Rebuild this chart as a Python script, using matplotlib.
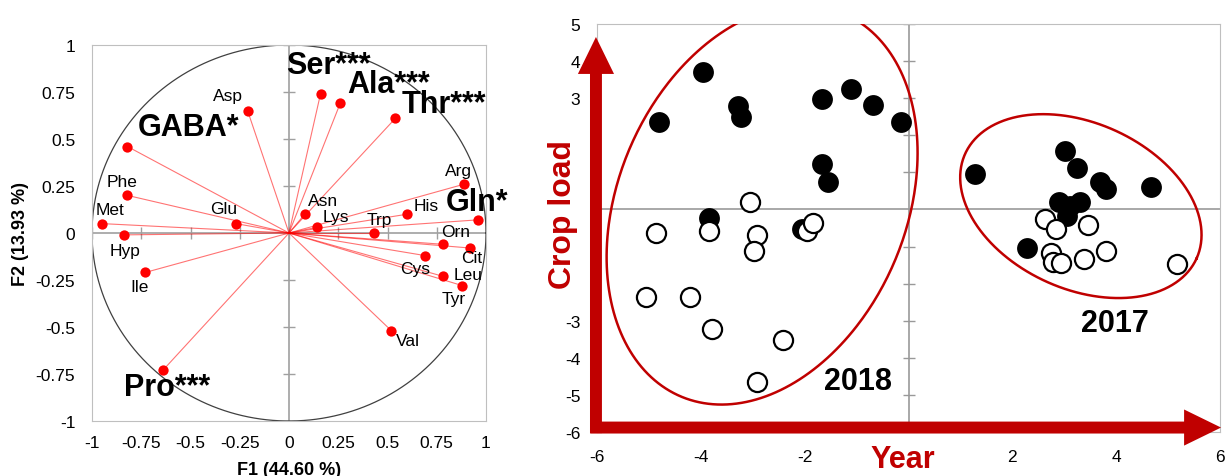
import numpy as np
import matplotlib.pyplot as plt
from matplotlib.patches import FancyArrowPatch

plt.rcParams['font.family'] = ['Liberation Sans', 'DejaVu Sans']
plt.rcParams['axes.unicode_minus'] = False

# --- left panel: PCA correlation circle (F1 x F2) ---
amino = ['Asp', 'GABA*', 'Phe', 'Met', 'Glu', 'Hyp', 'Ile', 'Pro***',
         'Ser***', 'Ala***', 'Thr***', 'Arg', 'Gln*', 'Asn', 'Lys', 'Trp',
         'His', 'Orn', 'Cit', 'Cys', 'Leu', 'Tyr', 'Val']
f1 = [-0.21, -0.82, -0.82, -0.95, -0.27, -0.84, -0.73, -0.64,
      0.16, 0.26, 0.54, 0.89, 0.96, 0.08, 0.14, 0.43,
      0.60, 0.78, 0.92, 0.69, 0.78, 0.88, 0.52]
f2 = [0.65, 0.46, 0.20, 0.05, 0.05, -0.01, -0.21, -0.73,
      0.74, 0.69, 0.61, 0.26, 0.07, 0.10, 0.03, 0.0,
      0.10, -0.06, -0.08, -0.12, -0.23, -0.28, -0.52]
significant = ['GABA*', 'Pro***', 'Ser***', 'Ala***', 'Thr***', 'Gln*']
circle_ticks = [-1, -0.75, -0.5, -0.25, 0, 0.25, 0.5, 0.75, 1]
circle_ticklabels = ['-1', '-0.75', '-0.5', '-0.25', '0', '0.25', '0.5', '0.75', '1']

# label offsets from each point, in points (dx, dy)
label_off = [(-14, 11), (44, 14), (-4, 10), (6, 10), (-9, 11), (1, -11),
             (-4, -10), (3, -12), (6, 21), (35, 14), (35, 10), (-4, 10),
             (-1, 13), (13, 10), (14, 8), (4, 10), (14, 6), (9, 9),
             (1, -7), (-7, -9), (18, 1), (-6, -9), (12, -7)]

# --- right panel: crop load vs year scores ---
full_x = [-3.95, -4.81, -3.29, -3.23, -1.66, -1.10, -0.68, -0.15, -1.67, -1.56,
          -3.84, -2.06,
          1.29, 3.02, 3.25, 3.69, 3.80, 4.67, 2.90, 3.11, 3.30, 3.05, 2.28]
full_y = [3.71, 2.35, 2.78, 2.49, 2.98, 3.25, 2.82, 2.35, 1.23, 0.73,
          -0.24, -0.53,
          0.96, 1.57, 1.11, 0.73, 0.55, 0.60, 0.19, 0.10, 0.19, -0.17, -1.04]
empty_x = [-4.87, -3.84, -3.05, -2.92, -2.98, -1.96, -1.83, -5.06, -4.21, -3.79,
           -2.41, -2.92,
           2.63, 2.84, 3.45, 3.81, 3.39, 2.74, 2.78, 2.93, 5.18]
empty_y = [-0.63, -0.57, 0.19, -0.69, -1.11, -0.57, -0.36, -2.37, -2.35, -3.22,
           -3.51, -4.64,
           -0.27, -0.54, -0.42, -1.11, -1.33, -1.17, -1.42, -1.44, -1.47]
year_ticks = [-6, -4, -2, 2, 4, 6]
load_ticks = [-6, -5, -4, -3, 3, 4, 5]

# groups: label, label pos, ellipse centre, semi-axes (px), angle (deg)
groups = ['2018', '2017']
group_text = [(-0.97, -4.62), (3.98, -3.06)]
ell_centre = [(-2.82, 0.12), (3.32, 0.09)]
ell_axes = [(208, 144), (127, 83)]
ell_angle = [67, -24.3]

dark_red = '#C00000'

fig = plt.figure(figsize=(12.3, 4.77), dpi=100)

# ---------------- left ----------------
ax = fig.add_axes([92 / 1230, 55 / 477, 394 / 1230, 376 / 477])
ax.set_xlim(-1, 1)
ax.set_ylim(-1, 1)
for s in ax.spines.values():
    s.set_color('#BFBFBF')
ax.set_xticks(circle_ticks)
ax.set_xticklabels(circle_ticklabels)
ax.set_yticks(circle_ticks)
ax.set_yticklabels(circle_ticklabels)
ax.tick_params(length=0, labelsize=12.5, pad=10)
ax.tick_params(axis='y', pad=12)
ax.axhline(0, color='#A0A0A0', lw=1.2, zorder=1)
ax.axvline(0, color='#A0A0A0', lw=1.2, zorder=1)
ax.plot([0] * len(circle_ticks), circle_ticks, ls='none', marker='_',
        ms=9, color='#A0A0A0', zorder=1)
ax.plot(circle_ticks, [0] * len(circle_ticks), ls='none', marker='|',
        ms=9, color='#A0A0A0', zorder=1)

t = np.linspace(0, 2 * np.pi, 400)
ax.plot(np.cos(t), np.sin(t), color='#404040', lw=0.9, zorder=2)

for i, name in enumerate(amino):
    ax.plot([0, f1[i]], [0, f2[i]], color='red', lw=0.8, alpha=0.55, zorder=3)
ax.scatter(f1, f2, s=55, color='red', zorder=4, linewidths=0)

for i, name in enumerate(amino):
    big = name in significant
    ax.annotate(name, (f1[i], f2[i]), xytext=label_off[i],
                textcoords='offset points', ha='center', va='center',
                fontsize=22 if big else 12.5,
                fontweight='bold' if big else 'normal', zorder=5,
                annotation_clip=False)

ax.set_xlabel('F1 (44.60 %)', fontsize=13, fontweight='bold', labelpad=8)
ax.set_ylabel('F2 (13.93 %)', fontsize=13, fontweight='bold', labelpad=5)

# ---------------- right ----------------
bx = fig.add_axes([597 / 1230, 44 / 477, 623 / 1230, 408 / 477])
bx.set_xlim(-6, 6)
bx.set_ylim(-6, 5)
for s in bx.spines.values():
    s.set_color('#BFBFBF')
bx.set_xticks(year_ticks)
bx.set_xticklabels([str(v) for v in year_ticks])
bx.set_yticks(load_ticks)
bx.set_yticklabels([str(v) for v in load_ticks])
bx.tick_params(length=0, labelsize=12.5, pad=12)
bx.axhline(0, color='#999999', lw=1.2, zorder=1)
bx.axvline(0, color='#999999', lw=1.2, zorder=1)
inner = [v for v in range(-5, 6) if v != 0]
bx.plot([0] * len(inner), inner, ls='none', marker='_', ms=9,
        color='#999999', zorder=1)

bx.scatter(full_x, full_y, s=225, color='black', linewidths=0, zorder=3)
bx.scatter(empty_x, empty_y, s=190, facecolor='white', edgecolor='black',
           linewidths=1.6, zorder=4)

# group ellipses, drawn in screen-proportional units
fig.canvas.draw()
bb = bx.get_window_extent()
sx = bb.width / 12.0
sy = bb.height / 11.0
for k, g in enumerate(groups):
    a, b = ell_axes[k]
    r = np.radians(ell_angle[k])
    u = a * np.cos(t)
    v = b * np.sin(t)
    ex = ell_centre[k][0] + (u * np.cos(r) - v * np.sin(r)) / sx
    ey = ell_centre[k][1] + (u * np.sin(r) + v * np.cos(r)) / sy
    bx.plot(ex, ey, color=dark_red, lw=1.8, zorder=5)
    bx.text(group_text[k][0], group_text[k][1], g, fontsize=22,
            fontweight='bold', ha='center', va='center', zorder=6)

# axis arrows
arrow_style = 'simple,head_length=26.6,head_width=26,tail_width=8.6'
up = FancyArrowPatch((-6.02, -6.03), (-6.02, 4.65), arrowstyle=arrow_style,
                     mutation_scale=1, color=dark_red, lw=0,
                     shrinkA=0, shrinkB=0, clip_on=False, zorder=7)
right = FancyArrowPatch((-6.13, -5.88), (6.02, -5.88), arrowstyle=arrow_style,
                        mutation_scale=1, color=dark_red, lw=0,
                        shrinkA=0, shrinkB=0, clip_on=False, zorder=7)
bx.add_patch(up)
bx.add_patch(right)

bx.text(-6.66, -0.12, 'Crop load', rotation=90, fontsize=23,
        fontweight='bold', color=dark_red, ha='center', va='center',
        clip_on=False)
bx.text(-0.11, -6.72, 'Year', fontsize=22, fontweight='bold',
        color=dark_red, ha='center', va='center', clip_on=False)

fig.savefig('out.png', dpi=100)
